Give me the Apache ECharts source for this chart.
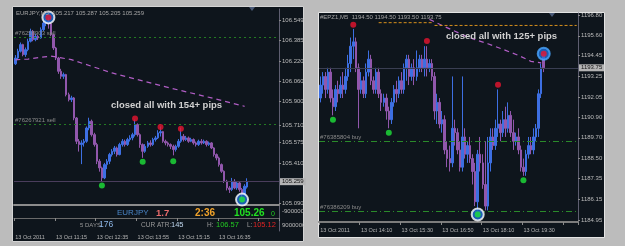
<!DOCTYPE html>
<html>
<head>
<meta charset="utf-8">
<script src="https://cdn.jsdelivr.net/npm/echarts@6/dist/echarts.min.js"></script>
<style>
html, body { margin: 0; padding: 0; background: #bcbcbc; }
#main { width: 625px; height: 246px; }
</style>
</head>
<body>
<div id="main"></div>
<script>
// EURJPY M5 - rows are [open, close, low, high]
var eurjpyBars = [
  [106.200, 106.246, 106.190, 106.270], [106.246, 106.300, 106.230, 106.320], [106.300, 106.353, 106.290, 106.370],
  [106.353, 106.273, 106.260, 106.360], [106.273, 106.313, 106.255, 106.330], [106.313, 106.379, 106.300, 106.400],
  [106.379, 106.459, 106.370, 106.480], [106.459, 106.393, 106.380, 106.470], [106.393, 106.419, 106.380, 106.440],
  [106.419, 106.406, 106.390, 106.430], [106.406, 106.472, 106.400, 106.490], [106.472, 106.525, 106.460, 106.545],
  [106.525, 106.539, 106.500, 106.555], [106.539, 106.520, 106.480, 106.570], [106.520, 106.432, 106.420, 106.525],
  [106.432, 106.326, 106.310, 106.440], [106.326, 106.246, 106.230, 106.335], [106.246, 106.140, 106.120, 106.255],
  [106.140, 106.100, 106.080, 106.160], [106.100, 106.114, 106.080, 106.130], [106.114, 105.954, 105.940, 106.120],
  [105.954, 105.914, 105.900, 105.970], [105.914, 105.928, 105.895, 105.945], [105.928, 105.768, 105.750, 105.935],
  [105.768, 105.582, 105.560, 105.775], [105.582, 105.556, 105.500, 105.600], [105.556, 105.569, 105.400, 105.590],
  [105.569, 105.582, 105.540, 105.600], [105.582, 105.688, 105.570, 105.700], [105.688, 105.742, 105.670, 105.770],
  [105.742, 105.635, 105.620, 105.755], [105.635, 105.556, 105.540, 105.650], [105.556, 105.423, 105.400, 105.570],
  [105.423, 105.370, 105.340, 105.440], [105.370, 105.290, 105.260, 105.380], [105.290, 105.396, 105.280, 105.410],
  [105.396, 105.423, 105.360, 105.440], [105.423, 105.476, 105.400, 105.490], [105.476, 105.502, 105.460, 105.520],
  [105.502, 105.529, 105.480, 105.545], [105.529, 105.476, 105.460, 105.540], [105.476, 105.556, 105.470, 105.570],
  [105.556, 105.582, 105.540, 105.600], [105.582, 105.556, 105.540, 105.595], [105.556, 105.596, 105.545, 105.610],
  [105.596, 105.609, 105.580, 105.630], [105.609, 105.635, 105.590, 105.650], [105.635, 105.715, 105.620, 105.755],
  [105.715, 105.635, 105.620, 105.725], [105.635, 105.556, 105.530, 105.645], [105.556, 105.502, 105.450, 105.565],
  [105.502, 105.542, 105.490, 105.560], [105.542, 105.569, 105.530, 105.585], [105.569, 105.556, 105.540, 105.590],
  [105.556, 105.596, 105.545, 105.610], [105.596, 105.609, 105.580, 105.625], [105.609, 105.649, 105.600, 105.670],
  [105.649, 105.659, 105.620, 105.700], [105.659, 105.582, 105.570, 105.665], [105.582, 105.569, 105.550, 105.595],
  [105.569, 105.556, 105.540, 105.580], [105.556, 105.542, 105.520, 105.565], [105.542, 105.516, 105.470, 105.555],
  [105.516, 105.542, 105.500, 105.555], [105.542, 105.582, 105.530, 105.600], [105.582, 105.622, 105.570, 105.690],
  [105.622, 105.596, 105.580, 105.640], [105.596, 105.609, 105.585, 105.625], [105.609, 105.582, 105.570, 105.620],
  [105.582, 105.596, 105.575, 105.610], [105.596, 105.569, 105.555, 105.605], [105.569, 105.556, 105.540, 105.580],
  [105.556, 105.582, 105.545, 105.595], [105.582, 105.569, 105.555, 105.600], [105.569, 105.582, 105.560, 105.595],
  [105.582, 105.556, 105.540, 105.590], [105.556, 105.569, 105.545, 105.580], [105.569, 105.529, 105.520, 105.575],
  [105.529, 105.476, 105.460, 105.535], [105.476, 105.449, 105.430, 105.485], [105.449, 105.396, 105.380, 105.460],
  [105.396, 105.343, 105.330, 105.405], [105.343, 105.263, 105.250, 105.350], [105.263, 105.210, 105.190, 105.275],
  [105.210, 105.197, 105.170, 105.225], [105.197, 105.263, 105.185, 105.290], [105.263, 105.210, 105.200, 105.280],
  [105.210, 105.250, 105.195, 105.265], [105.250, 105.197, 105.180, 105.260], [105.197, 105.157, 105.117, 105.210],
  [105.157, 105.224, 105.150, 105.240], [105.217, 105.259, 105.205, 105.287]
];
var eurjpyMa = [[0, 106.232], [5, 106.238], [14, 106.262], [22, 106.233], [38, 106.127], [58, 106.021], [77, 105.928], [90, 105.861]];
var eurjpySells = [[13, 106.570], [47, 105.763], [57, 105.696], [65, 105.683]];
var eurjpyBuys = [[34, 105.229], [50, 105.418], [62, 105.423], [89, 105.117]];
var eurjpyClosed = [[13, 106.570], [89, 105.117]];
var eurjpyOrders = [['#76258903 sell', 106.411], ['#76267921 sell', 105.723]];
var eurjpyLast = 105.259;
var eurjpyPriceTicks = [106.549, 106.385, 106.220, 106.060, 105.900, 105.710, 105.575, 105.410, 105.090];
var eurjpyTimeLabels = ['13 Oct 2011', '13 Oct 11:15', '13 Oct 12:35', '13 Oct 13:55', '13 Oct 15:15', '13 Oct 16:35'];

// #EPZ1 M5 - rows are [open, close, low, high]
var epBars = [
  [1192.00, 1192.75, 1191.75, 1193.25], [1192.75, 1193.25, 1192.25, 1193.50], [1193.25, 1192.50, 1192.00, 1193.50],
  [1192.50, 1193.50, 1192.25, 1193.75], [1193.50, 1192.00, 1191.75, 1193.75], [1192.00, 1191.50, 1191.00, 1192.50],
  [1191.50, 1192.50, 1191.25, 1192.75], [1192.50, 1192.25, 1191.75, 1193.00], [1192.25, 1192.75, 1192.00, 1193.25],
  [1192.75, 1192.50, 1192.00, 1193.50], [1192.50, 1193.25, 1192.25, 1193.75], [1193.25, 1194.00, 1193.00, 1194.50],
  [1194.00, 1195.00, 1193.50, 1195.50], [1195.00, 1195.25, 1194.25, 1196.00], [1195.25, 1193.75, 1193.50, 1195.50],
  [1193.75, 1192.50, 1190.25, 1194.00], [1192.50, 1193.00, 1192.25, 1193.50], [1193.00, 1192.25, 1192.00, 1193.25],
  [1192.25, 1193.50, 1192.00, 1194.00], [1193.50, 1194.25, 1193.25, 1194.75], [1194.25, 1193.00, 1192.75, 1194.50],
  [1193.00, 1192.50, 1192.25, 1193.25], [1192.50, 1193.50, 1192.25, 1193.75], [1193.50, 1192.25, 1192.00, 1193.75],
  [1192.25, 1191.75, 1191.25, 1192.50], [1191.75, 1192.00, 1191.50, 1192.25], [1192.00, 1191.25, 1190.75, 1192.25],
  [1191.25, 1190.75, 1190.25, 1191.50], [1190.75, 1191.75, 1190.50, 1192.00], [1191.75, 1192.50, 1191.50, 1192.75],
  [1192.50, 1192.25, 1191.75, 1193.00], [1192.25, 1193.00, 1192.00, 1193.25], [1193.00, 1192.50, 1192.25, 1193.50],
  [1192.50, 1193.75, 1192.25, 1194.00], [1193.75, 1194.25, 1193.00, 1194.50], [1194.25, 1193.25, 1192.75, 1194.50],
  [1193.25, 1193.75, 1193.00, 1194.00], [1193.75, 1193.25, 1192.75, 1194.25], [1193.25, 1193.75, 1193.00, 1194.75],
  [1193.75, 1194.25, 1193.50, 1194.50], [1194.25, 1193.75, 1193.50, 1194.50], [1193.75, 1194.25, 1193.25, 1195.00],
  [1194.25, 1193.75, 1193.25, 1195.00], [1193.75, 1194.00, 1193.50, 1194.25], [1194.00, 1193.25, 1193.00, 1194.25],
  [1193.25, 1191.25, 1190.75, 1193.50], [1191.25, 1191.75, 1190.50, 1192.25], [1191.75, 1190.50, 1190.25, 1192.00],
  [1190.50, 1190.75, 1190.00, 1191.25], [1190.75, 1189.00, 1188.75, 1191.00], [1189.00, 1188.50, 1188.00, 1189.50],
  [1188.50, 1188.25, 1187.75, 1189.25], [1188.25, 1190.25, 1188.00, 1193.25], [1190.25, 1190.00, 1189.25, 1190.75],
  [1190.00, 1189.00, 1188.75, 1190.25], [1189.00, 1188.00, 1187.75, 1189.50], [1188.00, 1189.75, 1187.75, 1193.25],
  [1189.75, 1188.75, 1188.50, 1190.25], [1188.75, 1189.25, 1188.25, 1189.50], [1189.25, 1188.50, 1188.25, 1189.75],
  [1188.50, 1187.75, 1187.00, 1188.75], [1187.75, 1186.00, 1185.75, 1188.25], [1186.00, 1188.75, 1185.50, 1189.00],
  [1188.75, 1188.25, 1187.75, 1189.75], [1188.25, 1187.00, 1186.75, 1188.75], [1187.00, 1185.75, 1185.50, 1189.50],
  [1185.75, 1188.25, 1185.50, 1189.75], [1188.25, 1189.75, 1187.75, 1190.25], [1189.75, 1189.25, 1189.00, 1190.25],
  [1189.25, 1190.25, 1189.00, 1190.75], [1190.25, 1190.50, 1189.75, 1192.50], [1190.50, 1190.00, 1189.50, 1190.75],
  [1190.00, 1190.75, 1189.75, 1191.25], [1190.75, 1190.25, 1189.75, 1191.50], [1190.25, 1191.00, 1190.00, 1191.75],
  [1191.00, 1190.00, 1189.75, 1191.25], [1190.00, 1189.50, 1189.00, 1190.75], [1189.50, 1189.75, 1189.25, 1190.00],
  [1189.75, 1189.00, 1188.75, 1190.25], [1189.00, 1188.00, 1187.75, 1189.25], [1188.00, 1187.75, 1187.50, 1188.50],
  [1187.75, 1188.75, 1187.50, 1189.00], [1188.75, 1189.25, 1188.50, 1189.75], [1189.25, 1189.00, 1188.75, 1189.75],
  [1189.00, 1189.75, 1188.75, 1190.25], [1189.75, 1190.25, 1189.50, 1190.50], [1190.25, 1192.25, 1189.75, 1192.50],
  [1192.25, 1193.75, 1192.00, 1194.00], [1194.50, 1193.75, 1193.50, 1194.50]
];
var epMa = [[43, 1196.55], [48, 1196.20], [58, 1195.53], [66, 1195.14], [73, 1194.76], [78, 1194.47], [83, 1194.12], [87, 1194.04]];
var epStopA = [[23, 1196.36], [44, 1196.36]];
var epStopB = [[45, 1196.20], [101, 1196.20]];
var epSells = [[13, 1196.24], [42, 1195.30], [70, 1192.77], [88, 1194.56]];
var epBuys = [[5, 1190.75], [27, 1190.00], [62, 1185.26], [80, 1187.24]];
var epClosed = [[62, 1185.26]];
var epClosedSell = [[88, 1194.56]];
var epOrders = [['#76385804 buy', 1189.50], ['#76386209 buy', 1185.45]];
var epLast = 1193.75;
var epPriceTicks = [1196.80, 1195.60, 1194.45, 1193.25, 1192.05, 1190.90, 1189.70, 1188.50, 1187.35, 1186.15, 1184.95];
var epTimeLabels = ['13 Oct 2011', '13 Oct 14:10', '13 Oct 15:30', '13 Oct 16:50', '13 Oct 18:10', '13 Oct 19:30'];

function slots(startMin, n) {
  var out = [];
  for (var i = 0; i < n; i++) {
    var m = startMin + i * 5;
    var hh = Math.floor(m / 60), mm = m % 60;
    out.push((hh < 10 ? '0' : '') + hh + ':' + (mm < 10 ? '0' : '') + mm);
  }
  return out;
}
var eurjpyTimes = slots(9 * 60 + 55, 104);
var epTimes = slots(12 * 60 + 50, 102);

var FONT = 'Liberation Sans';
var BULL = '#3d6fe2';
var BEAR = '#9157ac';

function orderLines(list, color, dash) {
  return list.map(function (o) {
    return {
      yAxis: o[1],
      lineStyle: { color: color, type: dash, width: 1 },
      label: { show: true, formatter: o[0], position: 'insideStartTop', color: '#8a8a8a', fontSize: 6, fontFamily: FONT, distance: 1 }
    };
  });
}
function lastLine(v, digits, color) {
  return {
    yAxis: v,
    lineStyle: { color: color, type: 'solid', width: 1 },
    label: { show: true, position: 'end', formatter: v.toFixed(digits), color: '#111', backgroundColor: '#b4b4b4',
             padding: [1, 2, 0, 2], fontSize: 6, fontFamily: FONT, distance: 1 }
  };
}
function priceAxis(grid, min, max, ticks, digits) {
  return {
    gridIndex: grid, type: 'value', position: 'right', min: min, max: max, scale: true,
    splitLine: { show: false },
    axisLine: { show: true, lineStyle: { color: '#5e5e70' } },
    axisTick: { show: true, length: 2, customValues: ticks, lineStyle: { color: '#8a8a8a' } },
    axisLabel: { customValues: ticks, formatter: function (v) { return v.toFixed(digits); },
                 color: '#bcbcbc', fontSize: 6, fontFamily: FONT, margin: 3 }
  };
}
function timeAxis(grid, cats, labels, showLabels, lineColor, lineWidth, margin) {
  return {
    gridIndex: grid, type: 'category', data: cats, boundaryGap: true,
    axisLine: { show: true, lineStyle: { color: lineColor, width: lineWidth } },
    axisTick: { show: showLabels, interval: 15, length: 3, lineStyle: { color: '#8a8a8a' } },
    axisLabel: { show: showLabels, interval: 15, align: 'left', margin: margin, color: '#b4b4b4', fontSize: 5.5, fontFamily: FONT,
                 formatter: function (v, i) { return labels[Math.round(i / 16)] || ''; } }
  };
}
function dots(xi, yi, data, color, size) {
  return { type: 'scatter', xAxisIndex: xi, yAxisIndex: yi, data: data, symbolSize: size, z: 6,
           itemStyle: { color: color }, silent: true };
}
function rings(xi, yi, data, border) {
  return { type: 'scatter', xAxisIndex: xi, yAxisIndex: yi, data: data, symbolSize: 12, z: 5,
           itemStyle: { color: '#1f6fd8', borderColor: border, borderWidth: 2 }, silent: true };
}
function candles(xi, yi, data, lines) {
  return {
    type: 'candlestick', xAxisIndex: xi, yAxisIndex: yi, data: data, barWidth: 2, z: 3,
    itemStyle: { color: BULL, color0: BEAR, borderColor: BULL, borderColor0: BEAR, borderWidth: 1 },
    markLine: { silent: true, symbol: ['none', 'none'], animation: false, data: lines }
  };
}

var chart = echarts.init(document.getElementById('main'));
var option = {
  backgroundColor: '#bcbcbc',
  animation: false,
  textStyle: { fontFamily: FONT },
  grid: [
    { left: 14, top: 9, width: 265, height: 196 },
    { left: 14, top: 206, width: 265, height: 25 },
    { left: 319, top: 13, width: 259, height: 209 }
  ],
  xAxis: [
    timeAxis(0, eurjpyTimes, eurjpyTimeLabels, false, '#8c8c8c', 2, 3),
    timeAxis(1, eurjpyTimes, eurjpyTimeLabels, true, '#6a6a6a', 1, 3),
    timeAxis(2, epTimes, epTimeLabels, true, '#7c7c7c', 2, 5)
  ],
  yAxis: [
    priceAxis(0, 105.074, 106.637, eurjpyPriceTicks, 3),
    {
      gridIndex: 1, type: 'value', position: 'right', inverse: true, min: -15430000, max: 16700000,
      splitLine: { show: false },
      axisLine: { show: true, lineStyle: { color: '#5e5e70' } },
      axisTick: { show: false },
      axisLabel: { customValues: [-9000000, 9000000], color: '#bcbcbc', fontSize: 6, fontFamily: FONT, margin: 3,
                   formatter: function (v) { return String(v); } }
    },
    priceAxis(2, 1184.83, 1196.92, epPriceTicks, 2)
  ],
  series: [
    candles(0, 0, eurjpyBars, orderLines(eurjpyOrders, '#237a23', [2, 3]).concat([lastLine(eurjpyLast, 3, '#4a3d5c')])),
    { type: 'line', xAxisIndex: 0, yAxisIndex: 0, data: eurjpyMa, symbol: 'none', connectNulls: true, z: 4,
      lineStyle: { color: '#b25ec6', width: 1.2, type: [5, 4] }, silent: true },
    rings(0, 0, eurjpyClosed, '#ffffff'),
    dots(0, 0, eurjpySells, '#e81430', 6),
    dots(0, 0, eurjpyBuys, '#1ee23a', 6),

    candles(2, 2, epBars, orderLines(epOrders, '#2a8a2a', [6, 3, 1, 3]).concat([lastLine(epLast, 2, '#3a3e52')])),
    { type: 'line', xAxisIndex: 2, yAxisIndex: 2, data: epMa, symbol: 'none', z: 4,
      lineStyle: { color: '#b25ec6', width: 1.2, type: [5, 4] }, silent: true },
    { type: 'line', xAxisIndex: 2, yAxisIndex: 2, data: epStopA, symbol: 'none', z: 4,
      lineStyle: { color: '#d8901c', width: 1, type: [3, 2] }, silent: true },
    { type: 'line', xAxisIndex: 2, yAxisIndex: 2, data: epStopB, symbol: 'none', z: 4,
      lineStyle: { color: '#d8901c', width: 1, type: [3, 2] }, silent: true },
    rings(2, 2, epClosed, '#ffffff'),
    rings(2, 2, epClosedSell, '#4aa6ff'),
    dots(2, 2, epSells, '#e81430', 6),
    dots(2, 2, epBuys, '#1ee23a', 6)
  ],
  graphic: [
    { type: 'rect', z: -10, shape: { x: 12.5, y: 6.5, width: 291, height: 235 },
      style: { fill: '#0e151c', stroke: '#d4d4d4', lineWidth: 1 } },
    { type: 'rect', z: -10, shape: { x: 318.5, y: 12.5, width: 286, height: 225 },
      style: { fill: '#0e151c', stroke: '#e4e4e4', lineWidth: 1 } },
    { type: 'polygon', z: 10, shape: { points: [[249, 7], [255, 7], [252, 11]] }, style: { fill: '#4a5a78' } },
    { type: 'polygon', z: 10, shape: { points: [[549, 13], [555, 13], [552, 17]] }, style: { fill: '#4a5a78' } },
    { type: 'text', z: 10, x: 16, y: 13, style: { text: 'EURJPY,M5  105.217 105.287 105.205 105.259', fill: '#a4a4a4',
      font: '6px Liberation Sans', textVerticalAlign: 'middle' } },
    { type: 'text', z: 10, x: 320, y: 17, style: { text: '#EPZ1,M5  1194.50 1194.50 1193.50 1193.75', fill: '#a4a4a4',
      font: '6px Liberation Sans', textVerticalAlign: 'middle' } },
    { type: 'text', z: 10, x: 111, y: 105, style: { text: 'closed all with 154+ pips', fill: '#d0d0d0',
      font: 'bold 9.5px Liberation Sans', textVerticalAlign: 'middle' } },
    { type: 'text', z: 10, x: 446, y: 36, style: { text: 'closed all with 125+ pips', fill: '#d0d0d0',
      font: 'bold 9.5px Liberation Sans', textVerticalAlign: 'middle' } },
    // info panel
    { type: 'text', z: 10, x: 117, y: 213, style: { text: 'EURJPY', fill: '#4a86c8', font: '8px Liberation Sans', textVerticalAlign: 'middle' } },
    { type: 'text', z: 10, x: 156, y: 213, style: { text: '1.7', fill: '#ea6c6c', font: 'bold 9.5px Liberation Sans', textVerticalAlign: 'middle' } },
    { type: 'text', z: 10, x: 195, y: 213, style: { text: '2:36', fill: '#f0a22a', font: 'bold 10px Liberation Sans', textVerticalAlign: 'middle' } },
    { type: 'text', z: 10, x: 234, y: 213, style: { text: '105.26', fill: '#22e022', font: 'bold 10px Liberation Sans', textVerticalAlign: 'middle' } },
    { type: 'text', z: 10, x: 271, y: 214, style: { text: '0', fill: '#22d022', font: '7px Liberation Sans', textVerticalAlign: 'middle' } },
    { type: 'text', z: 10, x: 80, y: 225, style: { text: '5 DAYS:', fill: '#9a9a9a', font: '6px Liberation Sans', textVerticalAlign: 'middle' } },
    { type: 'text', z: 10, x: 99, y: 225, style: { text: '176', fill: '#8cb6e6', font: '8.5px Liberation Sans', textVerticalAlign: 'middle' } },
    { type: 'text', z: 10, x: 141, y: 225, style: { text: 'CUR ATR:', fill: '#9a9a9a', font: '6.5px Liberation Sans', textVerticalAlign: 'middle' } },
    { type: 'text', z: 10, x: 171, y: 225, style: { text: '145', fill: '#c0d8f0', font: '7.5px Liberation Sans', textVerticalAlign: 'middle' } },
    { type: 'text', z: 10, x: 207, y: 225, style: { text: 'H:', fill: '#9a9a9a', font: '6.5px Liberation Sans', textVerticalAlign: 'middle' } },
    { type: 'text', z: 10, x: 216, y: 225, style: { text: '106.57', fill: '#22c822', font: '7.5px Liberation Sans', textVerticalAlign: 'middle' } },
    { type: 'text', z: 10, x: 247, y: 225, style: { text: 'L:', fill: '#9a9a9a', font: '6.5px Liberation Sans', textVerticalAlign: 'middle' } },
    { type: 'text', z: 10, x: 253, y: 225, style: { text: '105.12', fill: '#e02424', font: '7.5px Liberation Sans', textVerticalAlign: 'middle' } }
  ]
};
chart.setOption(option);
</script>
</body>
</html>
